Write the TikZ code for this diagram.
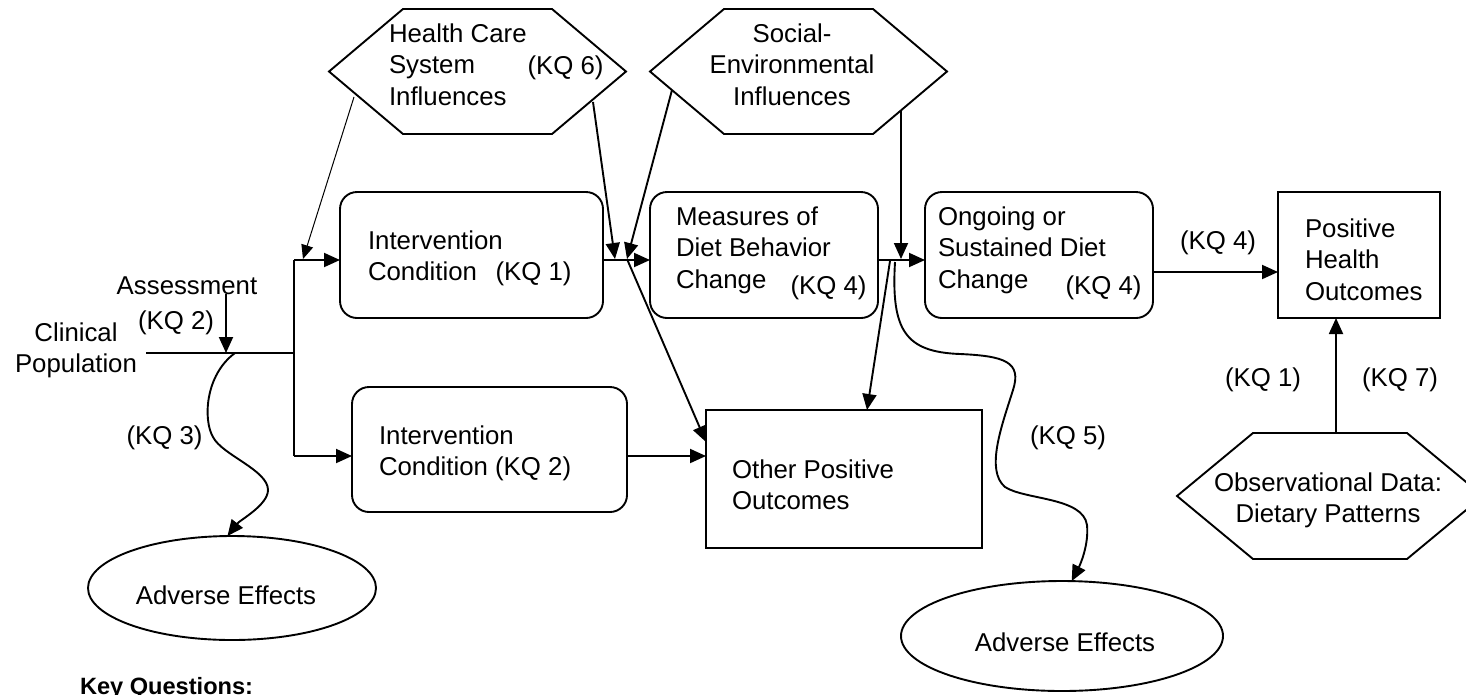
\documentclass[tikz,border=0pt]{standalone}
\usepackage{fontspec}
\setmainfont{Liberation Sans}
\usetikzlibrary{arrows.meta,shapes.geometric,calc}
\newcommand{\diafont}{\fontsize{25.8pt}{31.5pt}\selectfont}
\newcommand{\drawhexagon}[2]{\draw[shp] (#1.west) -- ([xshift=#2]#1.north west) -- ([xshift=-#2]#1.north east) -- (#1.east) -- ([xshift=-#2]#1.south east) -- ([xshift=#2]#1.south west) -- cycle;}
\begin{document}
\begin{tikzpicture}[x=1pt,y=-1pt,
  every node/.style={inner sep=0pt, outer sep=0pt},
  shp/.style={draw=black, line width=1.9pt},
  rbox/.style={shp, rounded corners=17pt},
  sbox/.style={shp},
  ell/.style={shp, ellipse},
  txt/.style={font=\diafont, align=left, anchor=base west},
  ctxt/.style={font=\diafont, align=center, anchor=base},
  con/.style={line width=1.9pt, -{Triangle[length=16pt,width=14pt]}},
  thincon/.style={line width=1pt, -{Triangle[length=14pt,width=12pt]}},
  plain/.style={line width=1.9pt}]
\fill[white] (0,0) rectangle (1466,694);
\useasboundingbox (0,0) rectangle (1466,694);

% shapes
\node[rbox, minimum width=263pt, minimum height=126pt] (b1) at (471.5,255) {};
\node[rbox, minimum width=275pt, minimum height=125pt] (b2) at (489.5,449.5) {};
\node[rbox, minimum width=228pt, minimum height=126pt] (m) at (764,255) {};
\node[rbox, minimum width=228pt, minimum height=126pt] (og) at (1039,255) {};
\node[sbox, minimum width=162pt, minimum height=126pt] (ph) at (1359,255) {};
\node[sbox, minimum width=276pt, minimum height=138pt] (op) at (844,479) {};
\node[ell, minimum width=288pt, minimum height=104pt] (ae1) at (232,588) {};
\node[ell, minimum width=322pt, minimum height=110pt] (ae2) at (1062,636) {};
\node[minimum width=297pt, minimum height=125pt] (hx1) at (477.5,71.5) {};
\node[minimum width=297pt, minimum height=125pt] (hx2) at (798.5,71.5) {};
\node[minimum width=306pt, minimum height=126pt] (hx3) at (1330,496) {};
\drawhexagon{hx1}{74pt}
\drawhexagon{hx2}{74pt}
\drawhexagon{hx3}{76pt}

% texts (multi-line nodes are anchored at the baseline of their last line)
\node[txt] (th1) at (389,105) {Health Care\\System\\Influences};
\node[ctxt] (th1kq) at (565.5,74) {(KQ 6)};
\node[ctxt] (th2) at (792,105) {Social-\\Environmental\\Influences};
\node[txt] (tb1) at (368,280.5) {Intervention\\Condition};
\node[ctxt] (tb1kq) at (533.5,280) {(KQ 1)};
\node[txt] (tm) at (676,288) {Measures of\\Diet Behavior\\Change};
\node[ctxt] (tmkq) at (828.5,294) {(KQ 4)};
\node[txt] (tog) at (938,288) {Ongoing or\\Sustained Diet\\Change};
\node[ctxt] (togkq) at (1103.5,294) {(KQ 4)};
\node[txt] (tph) at (1305,300) {Positive\\Health\\Outcomes};
\node[txt] (tb2) at (379,475.5) {Intervention\\Condition (KQ 2)};
\node[txt] (top) at (732,509.5) {Other Positive\\Outcomes};
\node[ctxt] (tae1) at (226,604) {Adverse Effects};
\node[ctxt] (tae2) at (1065,651) {Adverse Effects};
\node[ctxt] (thx3) at (1328,522.5) {Observational Data:\\Dietary Patterns};
\node[ctxt] (tcp) at (76,372.5) {Clinical\\Population};
\node[ctxt] (tas) at (187,294) {Assessment};
\node[ctxt] (taskq) at (176,329) {(KQ 2)};
\node[ctxt] (tkq3) at (164.5,444) {(KQ 3)};
\node[ctxt] (tkq5) at (1068,444) {(KQ 5)};
\node[ctxt] (tkq4) at (1218,249) {(KQ 4)};
\node[ctxt] (tkq1) at (1263,386) {(KQ 1)};
\node[ctxt] (tkq7) at (1400,386) {(KQ 7)};
\node[anchor=base west, font=\bfseries\fontsize{23.6pt}{28pt}\selectfont] (tkey) at (80,694.5) {Key Questions:};

% junction coordinates
\coordinate (jt) at (294,260);
\coordinate (jb) at (294,456);
\coordinate (jp) at (294,353);
\coordinate (ja) at (226,353);
\coordinate (kq3s) at (235,353);
\coordinate (h1a) at (354,97);
\coordinate (h1b) at (593,102);
\coordinate (h2a) at (672,90);
\coordinate (h2b) at (901,110);
\coordinate (hb) at (303,259);
\coordinate (x1) at (615,259);
\coordinate (x2) at (627,259);
\coordinate (x3) at (901,259);
\coordinate (x4) at (890,261);
\coordinate (x5) at (895,262);
\coordinate (cps) at (146,353);

% connectors
\draw[plain] (cps) -- (jp);
\draw[plain] (jt) -- (jb);
\draw[con] (jt) -- (jt -| b1.west);
\draw[con] (jb) -- (jb -| b2.west);
\draw[con] (tas.base -| ja) -- (ja);
\draw[con] (kq3s) .. controls (205,375) and (203,420) .. (213,437)
  .. controls (222,455) and (268,470) .. (268,490)
  .. controls (268,505) and (240,520) .. (ae1.95);
\draw[thincon] (h1a) -- (hb);
\draw[con] (h1b) -- (x1);
\draw[con] (h2a) -- (x2);
\draw[con] ([yshift=-5pt]b1.east) -- ([yshift=-5pt]m.west);
\draw[con] (x2) -- ($(op.north west)+(0,32)$);
\draw[con] ([yshift=-5pt]m.east) -- ([yshift=-5pt]og.west);
\draw[con] (h2b) -- (x3);
\draw[con] (x4) -- ($(op.north west)+(161,0)$);
\draw[con] (x5) .. controls (891,330) and (905,352) .. (960,354)
  .. controls (1005,356) and (1022,362) .. (1013,390)
  .. controls (1002,425) and (985,470) .. (1005,487)
  .. controls (1025,500) and (1083,497) .. (1087,525)
  .. controls (1089,545) and (1080,565) .. (ae2.80);
\draw[con] ([yshift=-17pt]og.east) -- ([yshift=-17pt]ph.west);
\draw[con] ([xshift=6pt]hx3.north) -- ([xshift=6pt]hx3.north |- ph.south);
\draw[con] ([yshift=-6.5pt]b2.east) -- ([yshift=-6.5pt]b2.east -| op.west);
\end{tikzpicture}
\end{document}
